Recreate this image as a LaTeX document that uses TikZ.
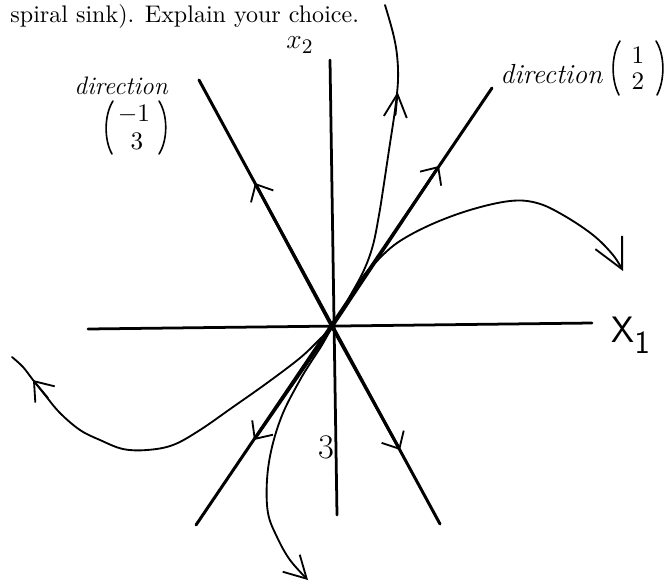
\documentclass[tikz,border=0pt]{standalone}
\usetikzlibrary{arrows.meta}
\begin{document}
\begin{tikzpicture}[x=0.435pt,y=-0.435pt,
  axis/.style={line width=1.2pt, line cap=round},
  eig/.style={line width=1.3pt, line cap=round},
  traj/.style={line width=0.8pt, line cap=round, line join=round},
  paren/.style={line width=0.7pt, line cap=round},
  entry/.style={inner sep=0pt, font=\fontsize{11}{13}\selectfont},
  linetip/.style={-{Straight Barb[length=6pt,width=11pt,line width=0.8pt]}},
  hand/.style={font=\itshape, inner sep=0pt},
]
\useasboundingbox (0,0) rectangle (667,581);

% named points
\coordinate (O)  at (332,327);
\coordinate (HL) at (88,329);
\coordinate (HR) at (592,323);
\coordinate (VT) at (330,60);
\coordinate (VB) at (337,515);
\coordinate (TL) at (199,80);
\coordinate (BR) at (440,524);
\coordinate (TR) at (492,88);
\coordinate (BL) at (196,525);
\coordinate (A1) at (255,183);
\coordinate (A2) at (400,450);
\coordinate (B1) at (439,166);
\coordinate (B2) at (254,440);

% axes
\draw[axis] (HL) -- (HR);
\draw[axis] (VT) -- (VB);

% eigen-direction lines
\draw[eig] (TL) -- (BR);
\draw[eig] (TR) -- (BL);
\draw[eig, linetip] (O) -- (A1);
\draw[eig, linetip] (O) -- (A2);
\draw[eig, linetip] (O) -- (B1);
\draw[eig, linetip] (O) -- (B2);

% trajectory going up
\draw[traj] plot[smooth, tension=0.6] coordinates {(332,327) (350,296) (364,270) (373,245) (379,215) (383,190) (389,150) (395,110) (398,80) (397,55) (393,33) (385,5)};
\coordinate (C1a) at (395.5,115);
\coordinate (C1b) at (397.6,92);
\draw[traj, -{Straight Barb[length=10pt,width=10pt,line width=0.8pt]}] (C1a) -- (C1b);

% trajectory to the right
\draw[traj, -{Straight Barb[length=13pt,width=13pt,line width=0.8pt]}] plot[smooth, tension=0.6] coordinates {(332,327) (348,302) (362,278) (375,263) (397,243) (430,225) (470,210) (510,201) (537,203) (563,215) (593,235) (613,255) (623,271)};

% trajectory to the lower left
\draw[traj] plot[smooth, tension=0.6] coordinates {(332,327) (320,339) (300,358) (267,383) (233,407) (200,430) (173,445) (147,450) (123,449) (100,440) (80,430) (60,413) (45,395) (33,380) (23,367) (12,357)};
\coordinate (C3a) at (48,398);
\coordinate (C3b) at (33,380);
\draw[traj, -{Straight Barb[length=7.5pt,width=11pt,line width=0.8pt]}] (C3a) -- (C3b);

% trajectory going down
\draw[traj, -{Straight Barb[length=9.5pt,width=10.5pt,line width=0.8pt]}] plot[smooth, tension=0.6] coordinates {(332,327) (322,345) (311,362) (300,380) (283,413) (272,447) (267,480) (268,513) (277,537) (290,560) (308,580)};

% texts
\node[anchor=base west, inner sep=0pt, font=\fontsize{10.45}{13}\selectfont] (title) at (10,22) {spiral sink). Explain your choice.};
\node[inner sep=0pt] (x2) at (300,45) {\fontsize{13}{15}\selectfont$x_2$};
\node[anchor=west, inner sep=0pt, font=\sffamily\fontsize{16}{19}\selectfont] (x1) at (611,335) {X\raisebox{-5pt}{\fontsize{14}{16}\selectfont 1}};

% left direction vector
\node[hand, anchor=base west, font=\fontsize{11}{13}\selectfont\itshape] (dl) at (74,94) {direction};
\node[entry] (l1) at (134,114) {$-1$};
\node[entry] (l2) at (137,141) {$3$};
\draw[paren] (113,101) .. controls (104,115) and (104,140) .. (112,154);
\draw[paren] (159,101) .. controls (168,115) and (168,140) .. (159,154);

% right direction vector
\node[hand, anchor=base west, font=\fontsize{12}{14}\selectfont\itshape] (dr) at (500,83) {direction};
\node[entry] (r1) at (638,55) {$1$};
\node[entry] (r2) at (638,81) {$2$};
\draw[paren] (620,41) .. controls (611,55) and (611,80) .. (619,95);
\draw[paren] (656,41) .. controls (665,55) and (665,80) .. (657,95);

\node (three) at (326,447) {\fontsize{15}{18}\selectfont 3};
\end{tikzpicture}
\end{document}
